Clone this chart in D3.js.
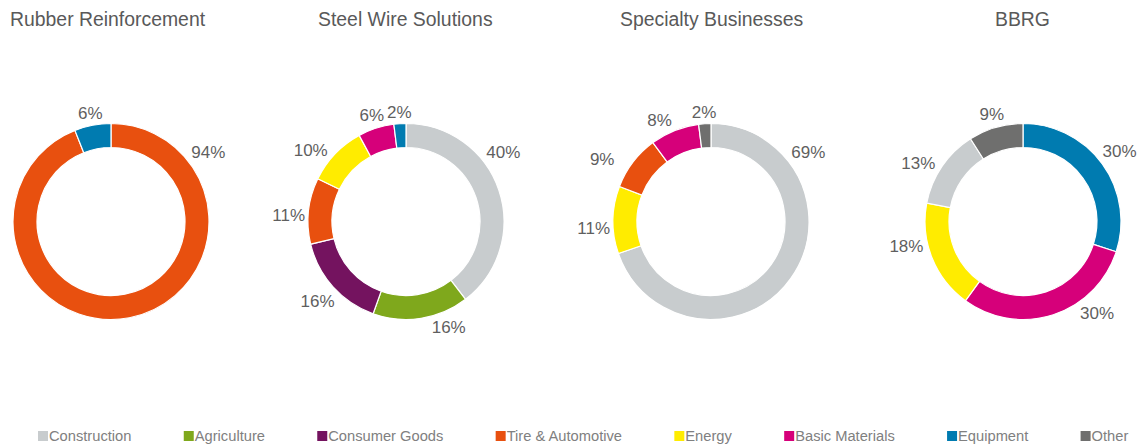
<html>

<head>
    <script src="https://d3js.org/d3.v7.min.js"></script>
    <style>
        body { margin: 0; background: #fff; }
        text { font-family: "Liberation Sans", Arial, sans-serif; }
    </style>
</head>

<body>
    <svg id="svg" width="1138" height="444"></svg>
    <script>
        // data (percent of sales per segment)
        const titles = ["Rubber Reinforcement", "Steel Wire Solutions", "Specialty Businesses", "BBRG"]
        const legendCats = ["Construction", "Agriculture", "Consumer Goods", "Tire & Automotive",
            "Energy", "Basic Materials", "Equipment", "Other"]

        const rubberCats = ["Tire & Automotive", "Equipment"]
        const rubberVals = [94, 6]
        const steelCats = ["Construction", "Agriculture", "Consumer Goods", "Tire & Automotive",
            "Energy", "Basic Materials", "Equipment"]
        const steelVals = [40, 16, 16, 11, 10, 6, 2]
        const specialtyCats = ["Construction", "Energy", "Tire & Automotive", "Basic Materials", "Other"]
        const specialtyVals = [69, 11, 9, 8, 2]
        const bbrgCats = ["Equipment", "Basic Materials", "Energy", "Construction", "Other"]
        const bbrgVals = [30, 30, 18, 13, 9]

        const charts = [
            [rubberCats, rubberVals],
            [steelCats, steelVals],
            [specialtyCats, specialtyVals],
            [bbrgCats, bbrgVals]
        ].map(([cats, vals], i) => ({
            title: titles[i],
            slices: cats.map((c, j) => ({ cat: c, value: vals[j] }))
        }))

        const color = d3.scaleOrdinal()
            .domain(legendCats)
            .range(["#c8ccce", "#7fa81c", "#74135f", "#e8500f", "#ffec00", "#d6007a", "#007bb0", "#6f6f6e"])

        const svg = d3.select('#svg');
        const centers = [111, 406, 711, 1023];
        const titleX = [10, 318, 620, 995];
        const cy = 221.5;
        const rOuter = 98, rInner = 74;
        const labelSize = 17;

        // label tweaks: [angle in degrees, extra distance], to follow where the original put them
        const firstLabelAngle = 54.5;
        const labelFix = {
            "1:1": [158, 0], "1:3": [273, 0], "1:4": [307, 0],
            "2:1": [267, 0], "2:2": [300, 10], "2:3": [333, 0],
            "3:1": [141, 0], "3:2": [258, 0], "3:3": [299, 0]
        };

        const pie = d3.pie().sort(null).value(d => d.value);
        const arc = d3.arc().innerRadius(rInner).outerRadius(rOuter);

        // distance of the label centre so the text box sits just outside the ring
        function labelDist(a, w, h) {
            const sx = Math.sin(a), sy = -Math.cos(a);
            const target = rOuter + 3;
            let lo = 0, hi = 300;
            for (let k = 0; k < 40; k++) {
                const d = (lo + hi) / 2;
                const cx = d * sx, cyy = d * sy;
                const nx = Math.max(cx - w / 2, Math.min(0, cx + w / 2));
                const ny = Math.max(cyy - h / 2, Math.min(0, cyy + h / 2));
                if (Math.hypot(nx, ny) < target) lo = d; else hi = d;
            }
            return hi;
        }

        charts.forEach((ch, ci) => {
            svg.append("text")
                .attr("x", titleX[ci])
                .attr("y", 26)
                .style("font-size", "19.4px")
                .style("fill", "#595959")
                .text(ch.title);

            const g = svg.append("g")
                .attr("transform", `translate(${centers[ci]},${cy})`);

            const arcs = pie(ch.slices);

            g.selectAll("path").data(arcs)
                .join("path")
                .attr("d", arc)
                .style("fill", d => color(d.data.cat))
                .style("stroke", "#fff")
                .style("stroke-width", 1.2);

            const labels = g.selectAll("text.pct").data(arcs)
                .join("text")
                .attr("class", "pct")
                .style("font-size", labelSize + "px")
                .style("fill", "#5f5f5f")
                .style("text-anchor", "middle")
                .attr("dy", "0.35em")
                .text(d => d.data.value + "%");

            labels.each(function (d, i) {
                let deg = (d.startAngle + d.endAngle) / 2 * 180 / Math.PI;
                let extra = 0;
                if (i === 0) deg = Math.min(deg, firstLabelAngle);
                const fix = labelFix[ci + ":" + i];
                if (fix) { deg = fix[0]; extra = fix[1]; }
                const a = deg * Math.PI / 180;
                const w = this.getComputedTextLength();
                const dist = labelDist(a, w, 16) + extra;
                d3.select(this)
                    .attr("x", dist * Math.sin(a))
                    .attr("y", -dist * Math.cos(a));
            });
        });

        // legend, flowing left to right
        const legend = svg.append("g").attr("id", "legend");
        let lx = 38;
        legendCats.forEach(c => {
            legend.append("rect")
                .attr("x", lx)
                .attr("y", 431)
                .attr("width", 10)
                .attr("height", 10)
                .style("fill", color(c));
            const t = legend.append("text")
                .attr("x", lx + 11)
                .attr("y", 436)
                .attr("dy", "0.35em")
                .style("font-size", "14.7px")
                .style("fill", "#808080")
                .text(c);
            lx += 11 + t.node().getComputedTextLength() + 52.3;
        });
    </script>
</body>

</html>
